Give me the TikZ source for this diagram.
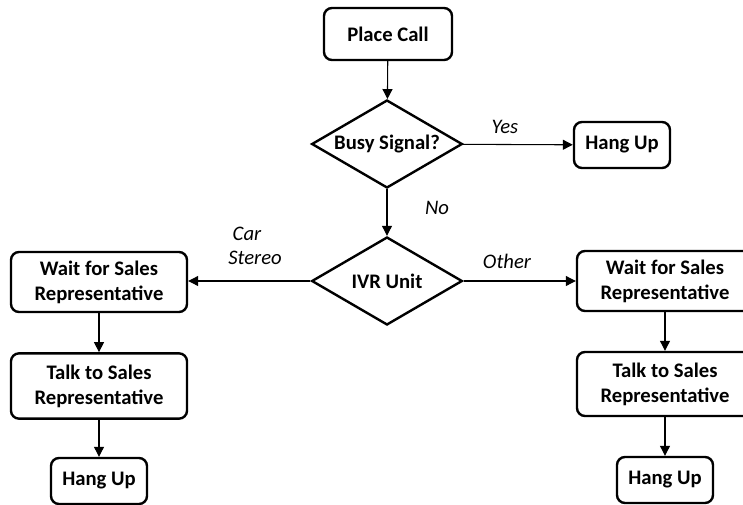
\documentclass[tikz,border=0pt]{standalone}
\usepackage{fontspec}
\setmainfont{Carlito}
\usetikzlibrary{shapes.geometric,arrows.meta}
\newcommand{\flowfont}{\fontsize{15.5}{18.75}\selectfont}

\begin{document}
\begin{tikzpicture}[x=0.75pt,y=-0.75pt,
  box/.style={draw,line width=1.8pt,rounded corners=6pt,align=center,font=\flowfont\bfseries,inner sep=0pt},
  decision/.style={draw,diamond,aspect=1.7,line width=1.8pt,minimum width=113pt,minimum height=66pt,inner sep=0pt,font=\flowfont\bfseries},
  flow/.style={-{Triangle[length=7.5pt,width=7.5pt]},line width=0.8pt},
  lbl/.style={font=\flowfont\itshape}]
  \useasboundingbox (0,0) rectangle (743,504);

  \node[box,minimum width=96pt,minimum height=39pt] (place) at (388,34) {Place Call};
  \node[decision] (busy) at (387,144) {Busy Signal?};
  \node[box,minimum width=72pt,minimum height=34.5pt] (hangA) at (622,145) {Hang Up};
  \node[decision] (ivr) at (387,281) {IVR Unit};
  % car stereo branch
  \node[box,minimum width=132pt,minimum height=45pt] (waitL) at (99,282) {Wait for Sales\\Representative};
  \node[box,minimum width=132pt,minimum height=49pt] (talkL) at (99,386) {Talk to Sales\\Representative};
  \node[box,minimum width=72pt,minimum height=34.5pt] (hangL) at (99,481) {Hang Up};
  % other branch
  \node[box,minimum width=132pt,minimum height=45pt] (waitR) at (665,281) {Wait for Sales\\Representative};
  \node[box,minimum width=132pt,minimum height=48pt] (talkR) at (665,384) {Talk to Sales\\Representative};
  \node[box,minimum width=72pt,minimum height=34.5pt] (hangR) at (665,480) {Hang Up};

  \path[flow]
    (place) edge (busy)
    (busy) edge (hangA)
    (busy) edge (ivr)
    (ivr.west) edge (waitL.east |- ivr.west)
    (ivr.east) edge (waitR.west |- ivr.east)
    (waitL) edge (talkL)
    (talkL) edge (hangL)
    (waitR) edge (talkR)
    (talkR) edge (hangR);

  \node[lbl] (yes) at (505,127) {Yes};
  \node[lbl] (no) at (437,208) {No};
  \node[lbl] (car) at (247,234) {Car};
  \node[lbl] (stereo) at (255,258) {Stereo};
  \node[lbl] (other) at (507,261) {Other};
\end{tikzpicture}
\end{document}
